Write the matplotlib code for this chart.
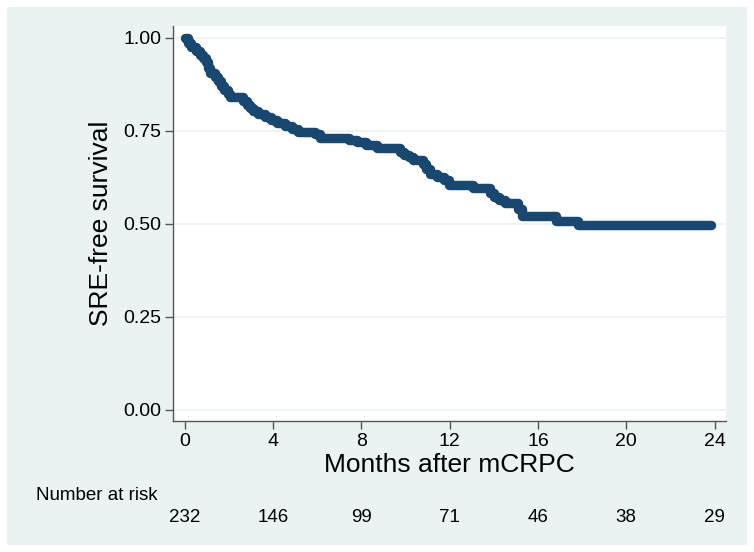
import matplotlib.pyplot as plt
from matplotlib.patches import Rectangle

plt.rcParams['font.family'] = ['Liberation Sans', 'DejaVu Sans']

# Kaplan-Meier estimate (month, SRE-free survival)
months = [0.0, 0.15, 0.30, 0.50, 0.70, 0.85, 0.95, 1.05, 1.15, 1.35,
          1.50, 1.65, 1.80, 1.95, 2.05, 2.65, 2.80, 2.95, 3.10, 3.30,
          3.65, 3.90, 4.20, 4.55, 4.85, 5.15, 5.90, 6.15, 7.45, 7.80,
          8.20, 8.70, 9.75, 9.95, 10.15, 10.35, 10.80, 10.95, 11.10, 11.45,
          11.75, 11.95, 13.05, 13.85, 14.00, 14.25, 14.50, 15.10, 15.30, 16.80,
          17.80, 23.85]
survival = [1.000, 0.987, 0.975, 0.966, 0.955, 0.945, 0.935, 0.920, 0.905, 0.895,
            0.884, 0.872, 0.860, 0.850, 0.840, 0.830, 0.820, 0.812, 0.804, 0.796,
            0.788, 0.778, 0.770, 0.763, 0.756, 0.746, 0.741, 0.732, 0.726, 0.719,
            0.711, 0.703, 0.694, 0.686, 0.679, 0.672, 0.660, 0.648, 0.635, 0.627,
            0.617, 0.605, 0.596, 0.584, 0.573, 0.565, 0.555, 0.540, 0.521, 0.509,
            0.497, 0.497]

risk_times = [0, 4, 8, 12, 16, 20, 24]
at_risk = [232, 146, 99, 71, 46, 38, 29]
yticks = [0.0, 0.25, 0.5, 0.75, 1.0]

navy = '#1a476f'
panel = '#eaf2f3'
axis_col = '#555555'

fig = plt.figure(figsize=(7.54, 5.52), dpi=100)
fig.patch.set_facecolor('white')
fig.patches.append(Rectangle((7/754, 7/552), 740/754, 538/552,
                             transform=fig.transFigure, facecolor=panel,
                             edgecolor='none', zorder=-5))

ax = fig.add_axes([173/754, 1-421/552, 553/754, 395/552])
ax.set_facecolor('white')
ax.step(months, survival, where='post', color=navy, lw=6.8,
        solid_joinstyle='round', solid_capstyle='round', zorder=3)

ax.set_xlim(-0.53, 24.52)
ax.set_ylim(-0.03, 1.032)
ax.set_xticks(risk_times)
ax.set_yticks(yticks)
ax.set_yticklabels(['%.2f' % v for v in yticks])
ax.grid(axis='y', color=panel, lw=1.2, zorder=0)
ax.set_axisbelow(True)

for s in ['top', 'right']:
    ax.spines[s].set_visible(False)
for s in ['left', 'bottom']:
    ax.spines[s].set_color(axis_col)
    ax.spines[s].set_linewidth(1.0)
ax.tick_params(axis='both', colors=axis_col, labelcolor='black',
               labelsize=14, length=5.5, width=1.0)
ax.tick_params(axis='x', pad=3)
ax.tick_params(axis='y', pad=3)

ax.set_ylabel('SRE-free survival', fontsize=19, labelpad=7)
ax.set_xlabel('Months after mCRPC', fontsize=19, labelpad=2)

# number at risk table
fig.text(36/754, 1-495/552, 'Number at risk', fontsize=13.5,
         ha='left', va='center')
for t, n in zip(risk_times, at_risk):
    ax.text(t, -(517-421)/395, str(n), fontsize=13.5, ha='center', va='center',
            transform=ax.get_xaxis_transform(), clip_on=False)

fig.savefig('out.png', dpi=100, facecolor='white')
